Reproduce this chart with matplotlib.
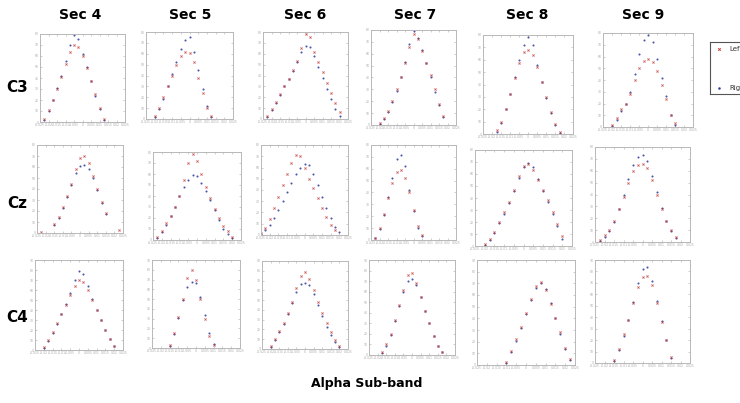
import numpy as np
import matplotlib
matplotlib.use("Agg")
import matplotlib.pyplot as plt

nan = np.nan

sections = ["Sec 4", "Sec 5", "Sec 6", "Sec 7", "Sec 8", "Sec 9"]
channels = ["C3", "Cz", "C4"]
series_names = ["Left", "Right"]
x_ticks = [-0.025, -0.02, -0.015, -0.01, -0.005, 0, 0.005, 0.01, 0.015, 0.02, 0.025]
x_grid = [-0.025, -0.0225, -0.02, -0.0175, -0.015, -0.0125, -0.01, -0.0075, -0.005, -0.0025,
          0.0, 0.0025, 0.005, 0.0075, 0.01, 0.0125, 0.015, 0.0175, 0.02, 0.0225, 0.025]
y_max = {"C3": 80, "Cz": 80, "C4": 90}

# ---- C3 ----
c3_s4_left  = [nan, 3, 11, 20, 30, 41, 53, 64, 70, 68, 60, 49, 37, 25, 13, 3, nan, nan, nan, nan, nan]
c3_s4_right = [nan, 2, 10, 20, 31, 42, 55, 70, 79, 75, 62, 50, 37, 24, 12, 2, nan, nan, nan, nan, nan]
c3_s5_left  = [nan, nan, 3, 10, 20, 30, 40, 50, 58, 62, 61, 52, 38, 24, 10, 3, nan, nan, nan, nan, nan]
c3_s5_right = [nan, nan, 2, 9, 18, 30, 41, 52, 64, 73, 75, 62, 45, 28, 12, 2, nan, nan, nan, nan, nan]
c3_s6_left  = [nan, 3, 9, 16, 23, 30, 37, 45, 53, 65, 78, 75, 62, 52, 43, 33, 24, 15, 6, nan, nan]
c3_s6_right = [nan, 2, 8, 15, 22, 30, 37, 44, 52, 62, 67, 66, 58, 48, 38, 28, 18, 9, 3, nan, nan]
c3_s7_left  = [nan, nan, 2, 6, 12, 20, 30, 40, 52, 66, 77, 72, 62, 52, 42, 30, 18, 8, nan, nan, nan]
c3_s7_right = [nan, nan, 1, 5, 11, 19, 29, 40, 53, 68, 79, 73, 63, 52, 40, 28, 17, 7, nan, nan, nan]
c3_s8_left  = [nan, nan, nan, 3, 10, 20, 32, 45, 57, 66, 68, 64, 54, 42, 30, 18, 8, 2, nan, nan, nan]
c3_s8_right = [nan, nan, nan, 2, 9, 20, 32, 46, 60, 72, 78, 72, 56, 42, 29, 17, 7, 1, nan, nan, nan]
c3_s9_left  = [nan, nan, 2, 8, 15, 20, 28, 40, 50, 56, 58, 55, 48, 36, 24, 10, 3, nan, nan, nan, nan]
c3_s9_right = [nan, nan, 1, 6, 14, 20, 30, 45, 62, 74, 78, 72, 58, 42, 26, 10, 2, nan, nan, nan, nan]

# ---- Cz ----
cz_s4_left  = [nan, 1, nan, nan, 8, 15, 24, 34, 45, 58, 68, 70, 64, 52, 40, 28, 18, nan, nan, 3, nan]
cz_s4_right = [nan, nan, nan, nan, 7, 14, 23, 33, 44, 55, 61, 62, 58, 50, 39, 27, 17, nan, nan, nan, nan]
cz_s5_left  = [nan, 3, 8, 15, 22, 30, 40, 55, 70, 78, 72, 60, 48, 38, 28, 20, 13, 8, 3, nan, nan]
cz_s5_right = [nan, 2, 7, 14, 22, 30, 40, 48, 55, 59, 58, 52, 45, 36, 27, 18, 10, 5, 2, nan, nan]
cz_s6_left  = [2, 6, 14, 24, 34, 44, 54, 64, 71, 70, 60, 50, 42, 33, 24, 16, 9, 4, nan, nan, nan]
cz_s6_right = [1, 4, 9, 15, 22, 30, 38, 46, 54, 60, 63, 62, 54, 44, 34, 24, 15, 7, 3, nan, nan]
cz_s7_left  = [nan, 2, 10, 22, 35, 48, 57, 59, 52, 40, 25, 12, 4, nan, nan, nan, nan, nan, nan, nan, nan]
cz_s7_right = [nan, 2, 9, 21, 36, 52, 68, 72, 62, 42, 24, 10, 3, nan, nan, nan, nan, nan, nan, nan, nan]
cz_s8_left  = [nan, nan, 2, 6, 12, 20, 28, 37, 47, 58, 67, 68, 63, 55, 47, 38, 28, 18, 8, nan, nan]
cz_s8_right = [nan, nan, 1, 5, 11, 19, 27, 36, 46, 57, 66, 69, 66, 56, 46, 37, 27, 17, 6, nan, nan]
cz_s9_left  = [nan, 2, 6, 10, 18, 28, 38, 50, 60, 65, 66, 62, 52, 40, 28, 18, 10, 4, nan, nan, nan]
cz_s9_right = [nan, 1, 4, 9, 17, 28, 40, 53, 65, 72, 73, 68, 56, 42, 29, 18, 9, 3, nan, nan, nan]

# ---- C4 ----
c4_s4_left  = [nan, nan, 3, 10, 18, 27, 36, 45, 55, 64, 70, 68, 60, 50, 40, 30, 20, 11, 4, nan, nan]
c4_s4_right = [nan, nan, 2, 9, 17, 26, 36, 46, 57, 70, 79, 76, 64, 51, 40, 30, 20, 11, 4, nan, nan]
c4_s5_left  = [nan, nan, nan, nan, 3, 15, 32, 50, 72, 80, 70, 50, 30, 12, 3, nan, nan, nan, nan, nan, nan]
c4_s5_right = [nan, nan, nan, nan, 2, 14, 31, 49, 62, 68, 66, 52, 34, 15, 4, nan, nan, nan, nan, nan, nan]
c4_s6_left  = [nan, nan, 3, 10, 18, 27, 37, 48, 62, 75, 79, 72, 60, 48, 37, 27, 17, 9, 3, nan, nan]
c4_s6_right = [nan, nan, 2, 9, 17, 26, 36, 47, 58, 66, 68, 65, 56, 45, 34, 23, 14, 7, 2, nan, nan]
c4_s7_left  = [nan, nan, nan, 3, 10, 20, 33, 47, 62, 76, 78, 68, 55, 42, 30, 18, 9, 3, nan, nan, nan]
c4_s7_right = [nan, nan, nan, 2, 9, 19, 32, 46, 60, 70, 72, 66, 55, 42, 30, 18, 9, 3, nan, nan, nan]
c4_s8_left  = [nan, nan, nan, nan, nan, nan, 3, 12, 22, 33, 45, 57, 68, 71, 64, 52, 40, 28, 15, 5, nan]
c4_s8_right = [nan, nan, nan, nan, nan, nan, 2, 11, 21, 32, 44, 56, 66, 70, 65, 53, 40, 27, 14, 4, nan]
c4_s9_left  = [nan, nan, nan, nan, 3, 12, 25, 38, 52, 66, 75, 76, 68, 52, 36, 20, 5, nan, nan, nan, nan]
c4_s9_right = [nan, nan, nan, nan, 2, 11, 24, 38, 53, 70, 82, 84, 72, 54, 37, 20, 4, nan, nan, nan, nan]

data = {
    "C3": [(c3_s4_left, c3_s4_right), (c3_s5_left, c3_s5_right), (c3_s6_left, c3_s6_right),
           (c3_s7_left, c3_s7_right), (c3_s8_left, c3_s8_right), (c3_s9_left, c3_s9_right)],
    "Cz": [(cz_s4_left, cz_s4_right), (cz_s5_left, cz_s5_right), (cz_s6_left, cz_s6_right),
           (cz_s7_left, cz_s7_right), (cz_s8_left, cz_s8_right), (cz_s9_left, cz_s9_right)],
    "C4": [(c4_s4_left, c4_s4_right), (c4_s5_left, c4_s5_right), (c4_s6_left, c4_s6_right),
           (c4_s7_left, c4_s7_right), (c4_s8_left, c4_s8_right), (c4_s9_left, c4_s9_right)],
}

# ---- layout (pixel boxes: left, right, top, bottom) ----
W, H = 740, 403
boxes = {
    "C3": [(40, 125, 34, 122), (146, 233, 32, 119), (263, 348, 32, 119),
           (371, 456, 30, 125), (483, 573, 35, 134), (603, 693, 33, 127)],
    "Cz": [(37, 123, 145, 233), (153, 241, 152, 240), (261, 348, 145, 235),
           (371, 456, 145, 240), (475, 572, 150, 246), (595, 690, 147, 242)],
    "C4": [(35, 123, 260, 350), (152, 240, 260, 348), (262, 348, 261, 349),
           (369, 455, 260, 355), (477, 575, 260, 365), (595, 690, 260, 363)],
}
col_title_x = [80, 190, 305, 415, 527, 643]
row_label_y = {"C3": 87, "Cz": 203, "C4": 318}

red = "#c8403c"
blue = "#2c3a9a"
frame_col = "#b8b8b8"
tick_col = "#a8a8a8"
font_bold = ["Liberation Sans Narrow", "DejaVu Sans"]

fig = plt.figure(figsize=(W / 100, H / 100), dpi=100)
fig.patch.set_facecolor("white")

def fx(px):
    return px / W

def fy(py):
    return 1 - py / H

for ch in channels:
    for j, sec in enumerate(sections):
        l, r, t, b = boxes[ch][j]
        ax = fig.add_axes([fx(l), fy(b), fx(r) - fx(l), (b - t) / H])
        left_vals, right_vals = data[ch][j]
        ax.plot(x_grid, right_vals, linestyle="none", marker="o", markersize=1.5,
                markeredgewidth=0, color=blue, alpha=0.85)
        ax.plot(x_grid, left_vals, linestyle="none", marker="x", markersize=1.5,
                markeredgewidth=0.6, color=red, alpha=0.85)
        ax.set_xlim(-0.025, 0.025)
        ax.set_ylim(0, y_max[ch])
        ax.set_xticks(x_ticks)
        ax.set_xticklabels([("%g" % v) for v in x_ticks])
        ax.set_yticks(np.arange(0, y_max[ch] + 1, 10))
        ax.tick_params(axis="both", labelsize=2.2, colors=tick_col, direction="in",
                       length=1.2, width=0.4, pad=1, top=True, right=True)
        for s in ax.spines.values():
            s.set_color(frame_col)
            s.set_linewidth(0.7)

for j, sec in enumerate(sections):
    fig.text(fx(col_title_x[j]), fy(15), sec, ha="center", va="center",
             fontsize=10, fontweight="bold", family=font_bold)

for ch in channels:
    fig.text(fx(17), fy(row_label_y[ch]), ch, ha="center", va="center",
             fontsize=11, fontweight="bold", family=font_bold)

fig.text(fx(367), fy(383), "Alpha Sub-band", ha="center", va="center",
         fontsize=9, fontweight="bold", family=font_bold)

# legend box (clipped at the right edge as in the reference)
lax = fig.add_axes([fx(710), fy(94), fx(790) - fx(710), (94 - 42) / H])
lax.set_xlim(0, 1)
lax.set_ylim(0, 1)
lax.set_xticks([])
lax.set_yticks([])
for s in lax.spines.values():
    s.set_color("#555555")
    s.set_linewidth(0.8)
lax.plot([0.11], [0.86], linestyle="none", marker="x", markersize=1.8,
         markeredgewidth=0.7, color=red)
lax.plot([0.11], [0.12], linestyle="none", marker="o", markersize=1.8,
         markeredgewidth=0, color=blue)
lax.text(0.24, 0.86, series_names[0], fontsize=5, va="center", ha="left",
         family=font_bold, color="#333333")
lax.text(0.24, 0.12, series_names[1], fontsize=5, va="center", ha="left",
         family=font_bold, color="#333333")

fig.savefig("out.png", dpi=100, facecolor="white")
